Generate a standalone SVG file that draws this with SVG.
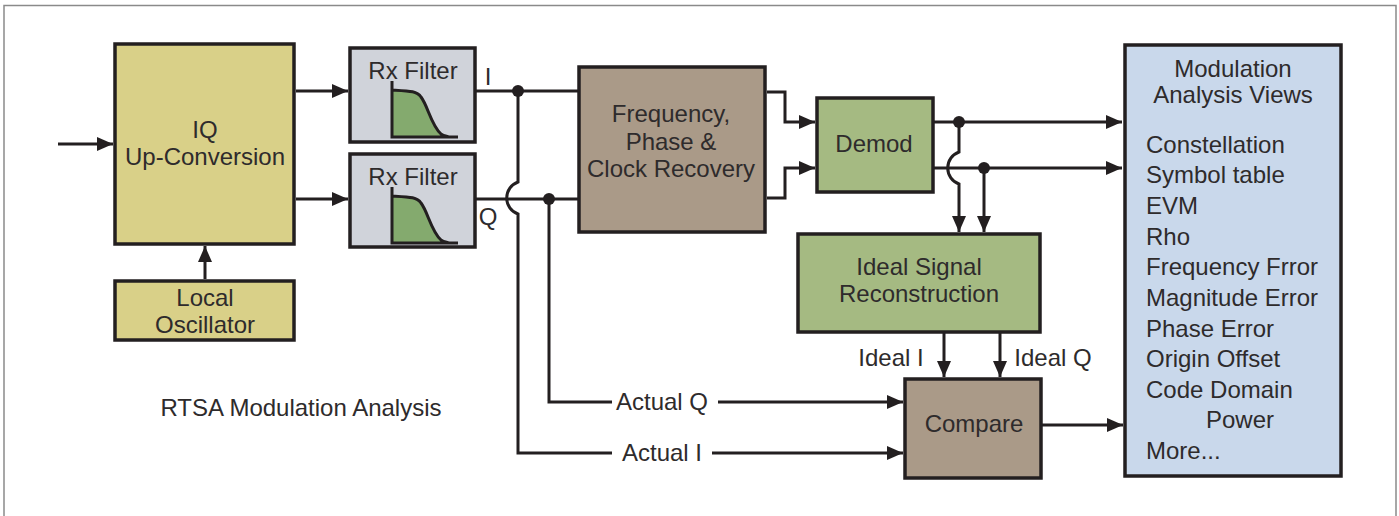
<svg xmlns="http://www.w3.org/2000/svg" width="1399" height="516" viewBox="0 0 1399 516">
<style>
.b{stroke:#231f20;stroke-width:3.5}
.y{fill:#d9d088}.g{fill:#d0d3da}.br{fill:#aa9a88}.gr{fill:#a5ba82}.bl{fill:#c9d8eb}
text{font-family:"Liberation Sans",Arial,sans-serif;font-size:24px;fill:#2e2b2c;text-anchor:middle}
.l{text-anchor:start}
.w{fill:none;stroke:#231f20;stroke-width:3}
.d{fill:#231f20;stroke:none}
.c{fill:#84aa6e;stroke:none}
</style>
<defs>
<marker id="a" markerUnits="userSpaceOnUse" markerWidth="17" markerHeight="14" refX="16" refY="7" orient="auto"><path d="M0 0L16 7L0 14Z" fill="#231f20"/></marker>
<g id="curve"><path class="c" d="M392 90C410 91 417 91 421 97C428 106 431 125 441 134C444 136 446 136 449 137H392Z"/><path class="w" d="M392 81V137H458M392 90C410 91 417 91 421 97C428 106 431 125 441 134C444 136 446 136 449 137" stroke-width="2.5"/></g>
</defs>
<path id="frame" d="M4 516V5.500H1396V516" fill="none" stroke="#8a8a8a" stroke-width="1.500"/>
<g id="connectors">
<path class="w" marker-end="url(#a)" d="M58 144H113"/>
<path class="w" marker-end="url(#a)" d="M296 91H348"/>
<path class="w" marker-end="url(#a)" d="M296 199H348"/>
<path class="w" marker-end="url(#a)" d="M205 279V246"/>
<path class="w" d="M475 91H578M475 199H578"/>
<path class="w" d="M518 91V182A17 17 0 0 0 518 214V453H612"/>
<path class="w" d="M549 199V402H612"/>
<path class="w" marker-end="url(#a)" d="M718 402H903"/>
<path class="w" marker-end="url(#a)" d="M712 453H903"/>
<path class="w" marker-end="url(#a)" d="M767 92H785V122H815"/>
<path class="w" marker-end="url(#a)" d="M767 198H785V168H815"/>
<path class="w" marker-end="url(#a)" d="M933 122H1122"/>
<path class="w" marker-end="url(#a)" d="M933 168H1122"/>
<path class="w" marker-end="url(#a)" d="M959 122V152A17 17 0 0 0 959 184V232"/>
<path class="w" marker-end="url(#a)" d="M984 168V232"/>
<path class="w" marker-end="url(#a)" d="M944 333V377"/>
<path class="w" marker-end="url(#a)" d="M1000 333V377"/>
<path class="w" marker-end="url(#a)" d="M1042 425H1123"/>
<circle class="d" cx="518" cy="91" r="6"/><circle class="d" cx="549" cy="199" r="6"/>
<circle class="d" cx="959" cy="122" r="6"/><circle class="d" cx="984" cy="168" r="6"/>
</g>
<g id="iq"><rect class="b y" x="115" y="44" width="179" height="200"/><text x="205" y="138">IQ</text><text x="205" y="165">Up-Conversion</text></g>
<g id="lo"><rect class="b y" x="115" y="281" width="179" height="59"/><text x="205" y="306">Local</text><text x="205" y="333">Oscillator</text></g>
<g id="rx1"><rect class="b g" x="350" y="48" width="125" height="94"/><text x="413" y="79">Rx Filter</text><use href="#curve"/></g>
<g id="rx2"><rect class="b g" x="350" y="154" width="125" height="93"/><text x="413" y="185">Rx Filter</text><use href="#curve" y="106"/></g>
<g id="freq"><rect class="b br" x="579" y="67" width="186" height="165"/><text x="671" y="122">Frequency,</text><text x="671" y="150">Phase &amp;</text><text x="671" y="177">Clock Recovery</text></g>
<g id="demod"><rect class="b gr" x="817" y="98" width="116" height="94"/><text x="874" y="152">Demod</text></g>
<g id="ideal"><rect class="b gr" x="798" y="234" width="242" height="98"/><text x="919" y="275">Ideal Signal</text><text x="919" y="302">Reconstruction</text></g>
<g id="compare"><rect class="b br" x="905" y="379" width="136" height="99"/><text x="974" y="432">Compare</text></g>
<g id="views"><rect class="b bl" x="1125" y="45" width="216" height="431"/>
<text x="1233" y="77">Modulation</text><text x="1233" y="103">Analysis Views</text>
<text class="l" x="1146" y="153">Constellation</text><text class="l" x="1146" y="183">Symbol table</text><text class="l" x="1146" y="214">EVM</text><text class="l" x="1146" y="245">Rho</text><text class="l" x="1146" y="275">Frequency Frror</text><text class="l" x="1146" y="306">Magnitude Error</text><text class="l" x="1146" y="337">Phase Error</text><text class="l" x="1146" y="367">Origin Offset</text><text class="l" x="1146" y="398">Code Domain</text><text class="l" x="1206" y="428">Power</text><text class="l" x="1146" y="459">More...</text></g>
<g id="labels"><text x="488" y="85">I</text><text x="488" y="225">Q</text><text x="662" y="410">Actual Q</text><text x="662" y="461">Actual I</text><text x="891" y="366">Ideal I</text><text x="1053" y="366">Ideal Q</text><text x="301" y="416">RTSA Modulation Analysis</text></g>
</svg>
